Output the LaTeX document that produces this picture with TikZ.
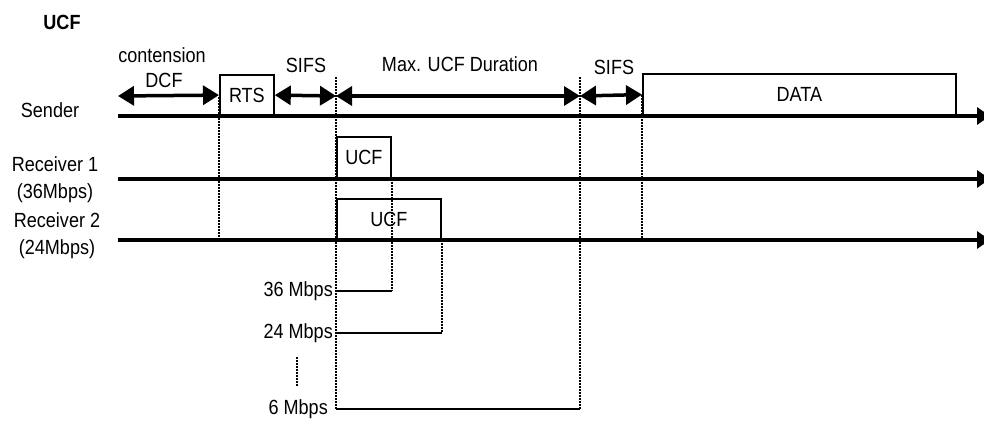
\documentclass[tikz,border=0pt]{standalone}
\usepackage{fontspec}
\setmainfont{Liberation Sans}[FakeStretch=0.88]
\usetikzlibrary{arrows.meta, positioning, calc}
\tikzset{
  every picture/.style={font=\fontsize{20.5}{27}\selectfont},
  timeline/.style={line width=4pt, -{Triangle[length=13pt, width=17pt]}},
  dimarrow/.style={line width=3.5pt, {Triangle[length=16pt, width=19pt]}-{Triangle[length=16pt, width=19pt]}},
  frame/.style={draw, line width=1.8pt, inner sep=0pt, anchor=south west},
  dotline/.style={line width=2.5pt, dash pattern=on 2pt off 1pt},
  rateline/.style={line width=1.6pt},
  rate/.style={inner sep=1pt, anchor=east},
  label/.style={align=center, inner sep=0pt},
}
\begin{document}
\begin{tikzpicture}[x=1pt, y=-1pt]
  \useasboundingbox (0,0) rectangle (984,422);
  % stations
  \node[font=\fontsize{20.5}{27}\selectfont\bfseries] (title) at (62,22) {UCF};
  \node[label] (snd) at (50,110) {Sender};
  \node[label] (rx1) at (55,180) {Receiver 1\\(36Mbps)};
  \node[label] (rx2) at (57,236) {Receiver 2\\(24Mbps)};
  \coordinate (s0) at (118,116); \coordinate (s1) at (990,116);
  \coordinate (p0) at (118,179); \coordinate (p1) at (990,179);
  \coordinate (q0) at (118,240); \coordinate (q1) at (990,240);
  \draw[timeline] (s0) -- (s1);
  \draw[timeline] (p0) -- (p1);
  \draw[timeline] (q0) -- (q1);
  % frames
  \node[frame, minimum width=54pt, minimum height=40pt] (rts) at (219,116) {RTS};
  \node[frame, minimum width=313pt, minimum height=41pt] (data) at (642,116) {DATA};
  \node[frame, minimum width=54pt, minimum height=41pt] (ucf1) at (336,179) {UCF};
  \node[frame, minimum width=104pt, minimum height=40pt] (ucf2) at (336,240) {UCF};
  % time marks
  \coordinate (a0) at (118,96); \coordinate (a2) at (336,96); \coordinate (a3) at (580,96);
  \draw[dotline] (219,97) -- (rts.south west |- q0);
  \draw[dotline] (336,77) -- (336,409);
  \draw[dotline] (580,77) -- (580,409);
  \draw[dotline] (642,95) -- (data.south west |- q0);
  % durations
  \draw[dimarrow] (a0) -- (rts.west);
  \draw[dimarrow] (rts.east) -- (a2);
  \draw[dimarrow] (a2) -- (a3);
  \draw[dimarrow] (a3) -- (data.west);
  \node[label] (cont) at (162,55) {contension};
  \node[label] (dcf) at (164,80) {DCF};
  \node[label] (sifs1) at (306,65) {SIFS};
  \node[label] (maxd) at (460,64) {Max. UCF Duration};
  \node[label] (sifs2) at (614,67) {SIFS};
  % rates
  \node[rate] (m36) at (334,291) {36 Mbps};
  \node[rate] (m24) at (334,333) {24 Mbps};
  \node[rate] (m6) at (329,409) {6 Mbps};
  \coordinate (r36) at (ucf1.south east |- m36.east);
  \coordinate (r24) at (ucf2.south east |- m24.east);
  \coordinate (r6) at (580,409);
  \draw[rateline] (336,291) -- (r36);
  \draw[rateline] (336,333) -- (r24);
  \draw[rateline] (336,409) -- (r6);
  \draw[dotline] (ucf1.south east) -- (r36);
  \draw[dotline] (ucf2.south east) -- (r24);
  \coordinate (v0) at (297,357); \coordinate (v1) at (297,387);
  \draw[dotline] (v0) -- (v1);
\end{tikzpicture}
\end{document}
